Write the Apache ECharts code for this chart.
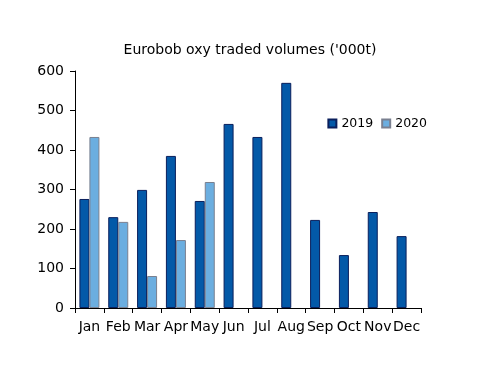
<!DOCTYPE html>
<html><head><meta charset="utf-8">
<script src="https://cdn.jsdelivr.net/npm/echarts@6/dist/echarts.min.js"></script>
<style>html,body{margin:0;padding:0;background:#fff}#c{width:500px;height:386px}</style>
</head><body><div id="c"></div>
<script>
const categories = ['Jan','Feb','Mar','Apr','May','Jun','Jul','Aug','Sep','Oct','Nov','Dec'];
const values2019 = [276, 230, 299, 385, 271, 466, 433, 570, 223, 134, 243, 182];
const values2020 = [433, 218, 81, 172, 319, null, null, null, null, null, null, null];
const yTicks = [0, 100, 200, 300, 400, 500, 600];
const font = 'DejaVu Sans, Verdana, sans-serif';
const chart = echarts.init(document.getElementById('c'));
chart.setOption({
  animation: false,
  title: {text: "Eurobob oxy traded volumes ('000t)", left: 'center', top: 38,
    textStyle: {fontFamily: font, fontSize: 14, fontWeight: 'normal', color: '#000'}},
  legend: {right: 68, top: 112, itemWidth: 8, itemHeight: 8, itemGap: 8, icon: 'rect',
    textStyle: {fontFamily: font, fontSize: 12.5, color: '#000'},
    data: ['2019','2020']},
  grid: {left: 75, right: 79, top: 71, bottom: 78},
  xAxis: {type: 'category', data: categories,
    axisLine: {lineStyle: {color: '#000', width: 1}},
    axisTick: {show: true, length: 5, lineStyle: {color: '#000'}},
    axisLabel: {fontFamily: font, fontSize: 14, color: '#000', margin: 12, interval: 0}},
  yAxis: {type: 'value', min: yTicks[0], max: yTicks[yTicks.length-1], interval: 100,
    splitLine: {show: false},
    axisLine: {show: true, lineStyle: {color: '#000', width: 1}},
    axisTick: {show: true, length: 5, lineStyle: {color: '#000'}},
    axisLabel: {fontFamily: font, fontSize: 14, color: '#000', margin: 11}},
  series: [
    {name: '2019', type: 'bar', data: values2019, barWidth: 10, barGap: 0,
      itemStyle: {color: '#0359A8', borderColor: '#0A1F5C', borderWidth: 1}},
    {name: '2020', type: 'bar', data: values2020, barWidth: 10, barGap: 0,
      itemStyle: {color: '#6BAEE0', borderColor: '#7A8090', borderWidth: 1}}
  ]
});
</script></body></html>
